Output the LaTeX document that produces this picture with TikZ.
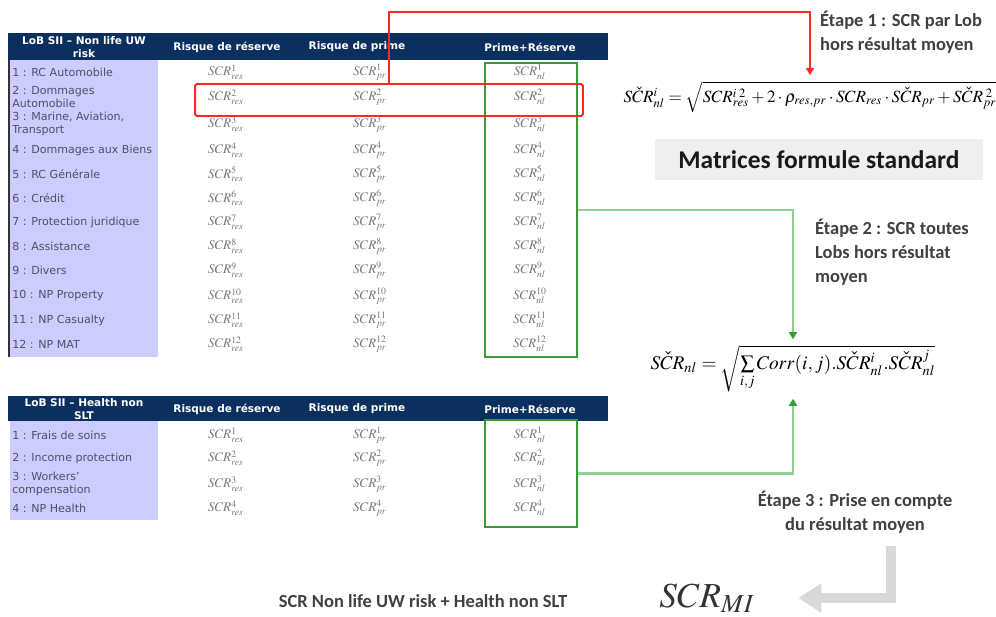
\documentclass[tikz,border=0pt]{standalone}
\usepackage{mathptmx}
\usepackage{graphicx}
\usepackage{fontspec}
\setmainfont{Carlito}
\newfontfamily\tabfont{DejaVu Sans}
\usetikzlibrary{arrows.meta}
\definecolor{navy}{HTML}{0B2F5E}
\definecolor{lav}{HTML}{CCCCFF}
\definecolor{lbltxt}{HTML}{50506A}
\definecolor{cellgray}{HTML}{777777}
\definecolor{stepgray}{HTML}{404040}
\definecolor{boxgreen}{HTML}{3A9A3A}
\definecolor{linegreen}{HTML}{92CF92}
\definecolor{arrgray}{HTML}{D9D9D9}
\definecolor{matbg}{HTML}{EFEFEF}
\tikzset{hdr/.style = {font=\tabfont\bfseries\fontsize{6}{7}\selectfont,
                       text=white, align=center, inner sep=0}}
\tikzset{lbl/.style = {font=\tabfont\fontsize{6.3}{7}\selectfont,
                       text=lbltxt, anchor=west, align=left, inner sep=0}}
\tikzset{cell/.style = {font=\fontsize{7.5}{8}\selectfont, text=cellgray, inner sep=0}}
\tikzset{etape/.style = {font=\bfseries\fontsize{10.5}{13.6}\selectfont,
                         text=stepgray, align=left}}
\tikzset{gbox/.style = {draw=boxgreen, line width=1.1pt, minimum width=1.84cm}}
\tikzset{rline/.style = {red!85, line width=0.8pt,
                         -{Triangle[length=4pt,width=4.5pt]}}}
\tikzset{gline/.style = {linegreen, line width=1.3pt,
                         -{Triangle[length=4pt,width=4.5pt,color=boxgreen]}}}
\tikzset{bigarrow/.style = {arrgray, line width=0.2cm,
                            -{Triangle[length=0.46cm,width=0.56cm]}}}

\begin{document}
\begin{tikzpicture}[x=0.02cm, y=-0.02cm]
  \useasboundingbox (0,0) rectangle (996,617);
  % non life table
  \fill[navy] (8,33) rectangle (608,60);
  \fill[lav] (10,60) rectangle (158,357);
  \draw[black!80, line width=0.8pt] (9,60) -- (9,357);
  \node[hdr] (nlh1) at (84,47) {LoB SII – Non life UW\\risk};
  \node[hdr] (nlh2) at (227,47) {Risque de réserve};
  \node[hdr] (nlh3) at (357,47) {Risque de prime};
  \node[hdr] (nlh4) at (530,47) {Prime+Réserve};
  \foreach \y/\i/\t in {72/1/{1 : RC Automobile}, 97/2/{2 : Dommages\\Automobile},
      124/3/{3 : Marine, Aviation,\\Transport}, 150/4/{4 : Dommages aux Biens},
      174/5/{5 : RC Générale}, 198/6/{6 : Crédit}, 222/7/{7 : Protection juridique},
      246/8/{8 : Assistance}, 270/9/{9 : Divers}, 296/10/{10 : NP Property},
      320/11/{11 : NP Casualty}, 344/12/{12 : NP MAT}} {
    \node[lbl] (lob\i) at (12,\y) {\t};
    \node[cell] (res\i) at (226,\y) {$SCR^{\i}_{res}$};
    \node[cell] (pr\i) at (370,\y) {$SCR^{\i}_{pr}$};
    \node[cell] (nl\i) at (530,\y) {$SCR^{\i}_{nl}$};
  }
  \node[gbox, minimum height=5.88cm] (g1) at (531,210) {};
  \node[draw=red!85, line width=1.1pt, rounded corners=1pt,
        minimum width=7.76cm, minimum height=0.64cm] (redbox) at (389,100) {};
  % health table
  \fill[navy] (8,396) rectangle (608,421);
  \fill[lav] (10,421) rectangle (158,520);
  \node[hdr] (hh1) at (84,409) {LoB SII – Health non\\SLT};
  \node[hdr] (hh2) at (227,409) {Risque de réserve};
  \node[hdr] (hh3) at (357,409) {Risque de prime};
  \node[hdr] (hh4) at (530,409) {Prime+Réserve};
  \foreach \y/\i/\t in {435/1/{1 : Frais de soins}, 458/2/{2 : Income protection},
      484/3/{3 : Workers’\\compensation}, 508/4/{4 : NP Health}} {
    \node[lbl] (hlob\i) at (12,\y) {\t};
    \node[cell] (hres\i) at (226,\y) {$SCR^{\i}_{res}$};
    \node[cell] (hpr\i) at (370,\y) {$SCR^{\i}_{pr}$};
    \node[cell] (hnl\i) at (530,\y) {$SCR^{\i}_{nl}$};
  }
  \node[gbox, minimum height=2.14cm] (g2) at (531,473.5) {};
  % formulas and steps
  \node (f1) at (810,97) {\resizebox{7.46cm}{!}{$S\check{C}R^{i}_{nl}=\sqrt{SCR^{i\;2}_{res}+2\cdot\rho_{res,pr}\cdot SCR_{res}\cdot S\check{C}R_{pr}+S\check{C}R_{pr}^{\;2}}$}};
  \node[etape, anchor=west] (et1) at (814,32) {Étape 1 : SCR par Lob\\hors résultat moyen};
  \node[fill=matbg, minimum width=6.56cm, minimum height=0.82cm,
        font=\bfseries\fontsize{14.5}{16}\selectfont, text=black!90] (mat) at (819,159.5)
        {Matrices formule standard};
  \node[etape, anchor=west] (et2) at (809,252) {Étape 2 : SCR toutes\\Lobs hors résultat\\moyen};
  \node (f2) at (793,369) {\resizebox{5.7cm}{!}{$S\check{C}R_{nl}=\sqrt{\sum\limits_{i,j} Corr(i,j).S\check{C}R^{i}_{nl}.S\check{C}R^{j}_{nl}}$}};
  \node[etape, align=center] (et3) at (855,512) {Étape 3 : Prise en compte\\du résultat moyen};
  \coordinate (g3) at (891,546);
  \node[font=\fontsize{20}{22}\selectfont, text=black!80] (scrmi) at (707,598) {$SCR_{MI}$};
  \node[font=\bfseries\fontsize{10.5}{12}\selectfont, text=stepgray] (total) at (423,601)
        {SCR Non life UW risk + Health non SLT};
  % connectors
  \draw[rline] (redbox.north) -- ++(0,-71) -| (f1.north);
  \draw[gline] (g1.east) -| (f2.north);
  \draw[gline] (g2.east) -| (f2.south);
  \draw[bigarrow] (g3) |- ([xshift=0.75cm]scrmi.east);
\end{tikzpicture}
\end{document}
